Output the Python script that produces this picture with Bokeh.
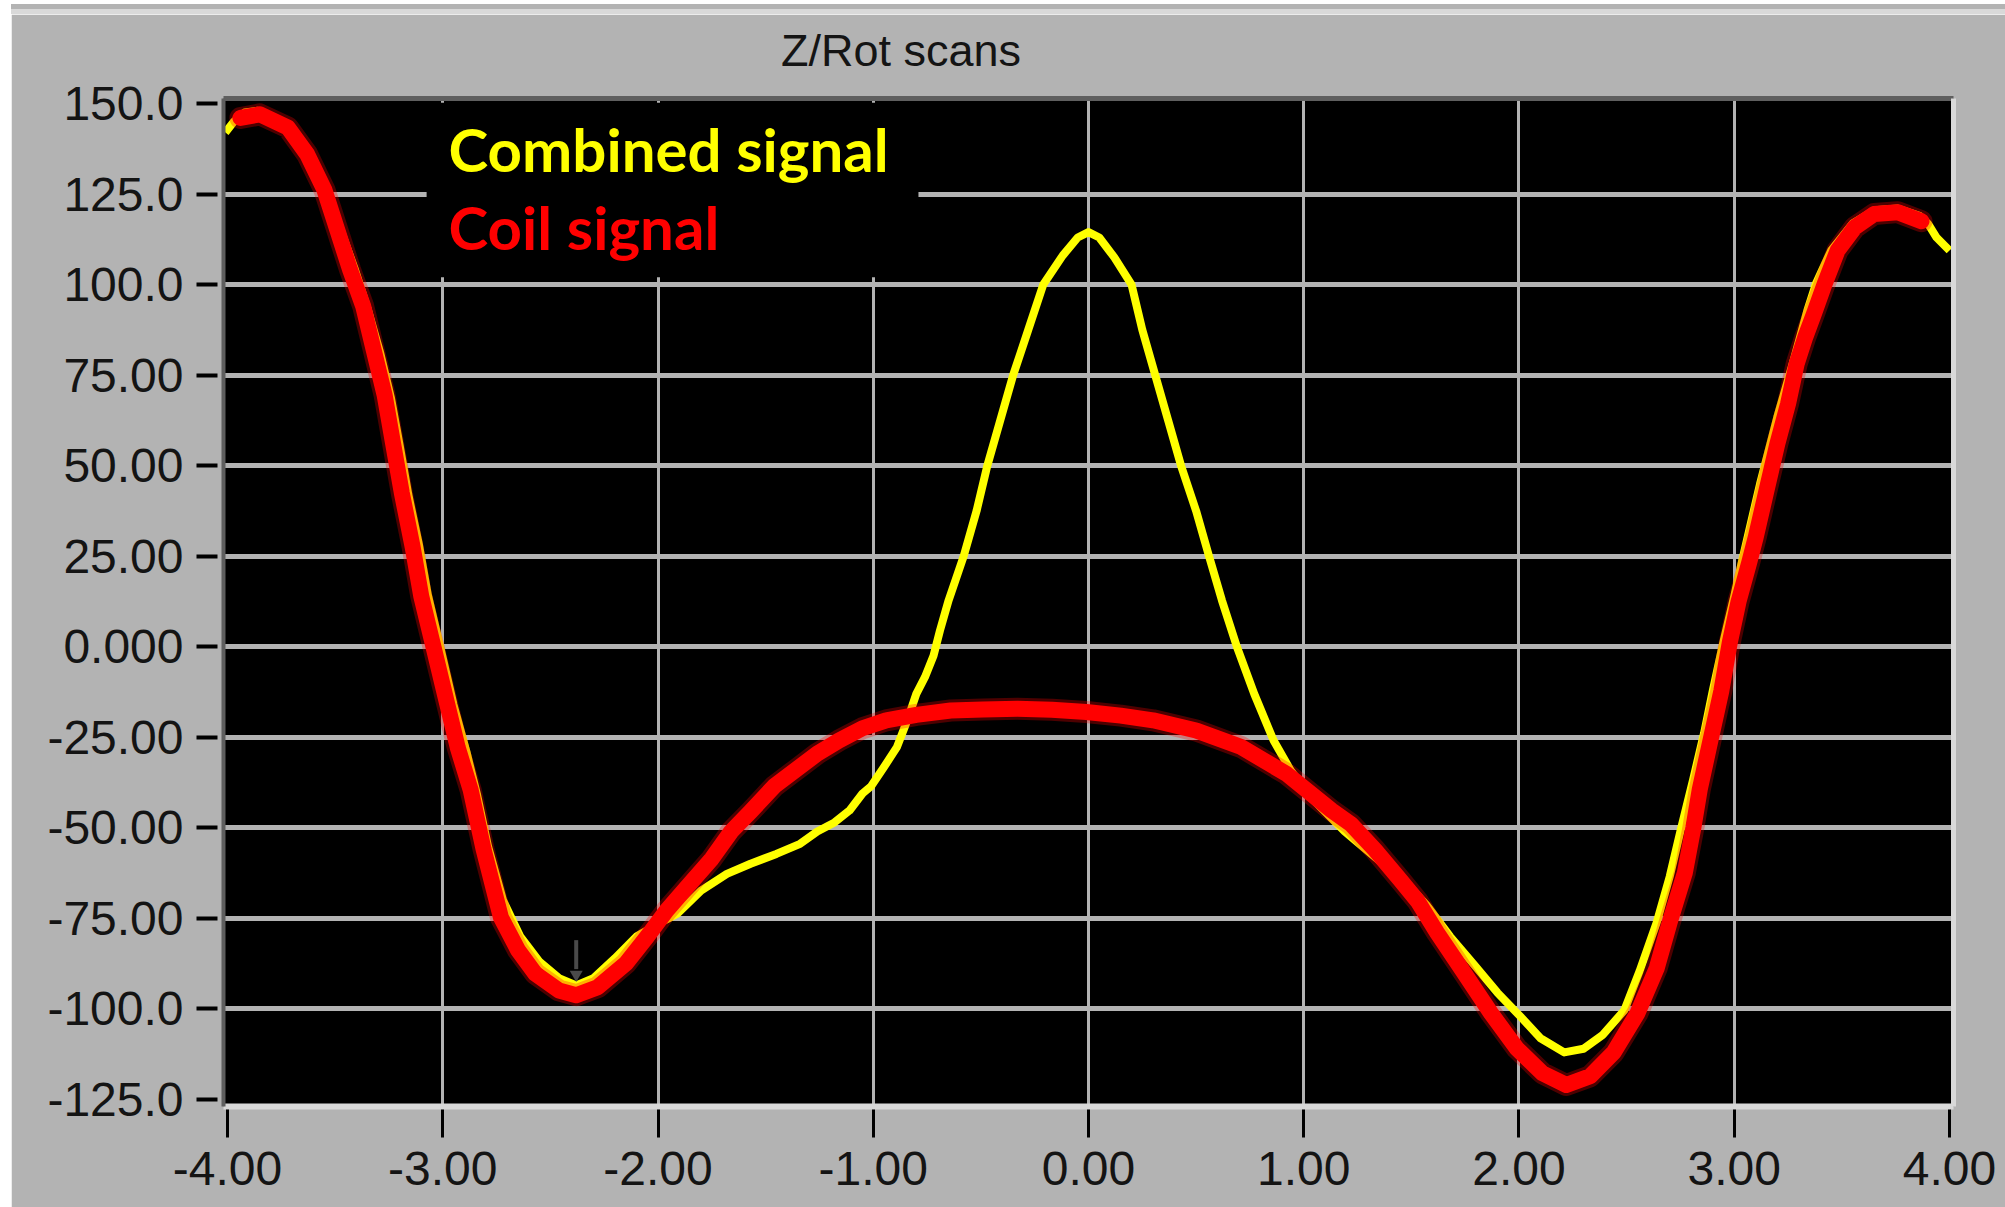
from bokeh.plotting import figure
from bokeh.models import Range1d, FixedTicker, LinearAxis, Label, Div, Spacer
from bokeh.layouts import column, row
from bokeh.embed import file_html
from bokeh.resources import INLINE

# ---- chart data -------------------------------------------------------------
title_text = "Z/Rot scans"
series_names = ["Combined signal", "Coil signal"]

x_ticks = [-4, -3, -2, -1, 0, 1, 2, 3, 4]
x_tick_labels = ["-4.00", "-3.00", "-2.00", "-1.00", "0.00", "1.00", "2.00", "3.00", "4.00"]
y_ticks = [150, 125, 100, 75, 50, 25, 0, -25, -50, -75, -100, -125]
y_tick_labels = ["150.0", "125.0", "100.0", "75.00", "50.00", "25.00", "0.000",
                 "-25.00", "-50.00", "-75.00", "-100.0", "-125.0"]

combined_x = [-4.01, -3.97, -3.92, -3.86, -3.78, -3.70, -3.62, -3.55, -3.48, -3.41,
              -3.35, -3.29, -3.24, -3.20, -3.16, -3.11, -3.07, -3.01, -2.95, -2.89,
              -2.84, -2.79, -2.72, -2.64, -2.55, -2.46, -2.38, -2.30, -2.20, -2.10,
              -2.00, -1.91, -1.80, -1.68, -1.57, -1.45, -1.34, -1.26, -1.18, -1.11,
              -1.05, -1.01, -0.95, -0.89, -0.84, -0.80, -0.76, -0.72, -0.69, -0.65,
              -0.58, -0.52, -0.47, -0.41, -0.35, -0.28, -0.21, -0.12, -0.05, 0.00,
              0.05, 0.12, 0.20, 0.25, 0.31, 0.37, 0.43, 0.50, 0.56, 0.62,
              0.69, 0.77, 0.86, 0.94, 1.04, 1.19, 1.37, 1.45, 1.57, 1.68,
              1.79, 1.90, 2.01, 2.10, 2.21, 2.30, 2.39, 2.49, 2.56, 2.64,
              2.70, 2.75, 2.81, 2.86, 2.90, 2.95, 3.00, 3.04, 3.12, 3.20,
              3.28, 3.34, 3.38, 3.45, 3.55, 3.65, 3.76, 3.86, 3.90, 3.94, 4.00]
combined_y = [142.0, 145.0, 147.5, 148.0, 146.0, 142.0, 135.5, 127.0, 116.0, 104.5,
              93.5, 81.0, 68.5, 55.5, 42.0, 28.0, 14.5, -0.5, -16.0, -29.0,
              -41.0, -55.0, -70.0, -80.0, -87.0, -91.5, -93.5, -91.5, -86.0, -80.0,
              -76.5, -73.7, -67.3, -62.7, -59.9, -57.2, -54.4, -51.0, -48.5, -45.2,
              -40.5, -38.5, -33.2, -27.7, -20.0, -13.0, -8.4, -2.5, 4.5, 12.8,
              25.0, 37.5, 50.0, 62.5, 75.0, 87.5, 100.0, 108.0, 113.0, 114.5,
              113.0, 107.5, 100.0, 87.5, 75.0, 62.5, 50.0, 37.5, 25.0, 12.8,
              -0.1, -13.0, -25.9, -34.2, -42.0, -51.0, -60.0, -63.5, -71.3, -80.0,
              -87.7, -95.5, -102.3, -108.1, -112.0, -111.0, -107.1, -100.3, -89.6, -76.1,
              -63.5, -50.9, -36.4, -23.8, -12.2, 1.4, 14.0, 24.6, 45.0, 63.4,
              80.0, 92.9, 100.3, 109.4, 116.9, 120.5, 121.0, 119.0, 116.8, 113.0, 109.4]

coil_x = [-3.94, -3.85, -3.72, -3.63, -3.55, -3.49, -3.43, -3.37, -3.32, -3.27,
          -3.23, -3.19, -3.14, -3.10, -3.04, -2.98, -2.93, -2.87, -2.81, -2.73,
          -2.65, -2.57, -2.46, -2.38, -2.28, -2.15, -2.05, -1.96, -1.86, -1.75,
          -1.66, -1.57, -1.46, -1.36, -1.26, -1.16, -1.05, -0.94, -0.80, -0.64,
          -0.49, -0.33, -0.17, -0.01, 0.15, 0.30, 0.50, 0.71, 0.92, 1.13,
          1.22, 1.33, 1.45, 1.53, 1.62, 1.74, 1.87, 1.99, 2.11, 2.22,
          2.33, 2.44, 2.55, 2.64, 2.70, 2.77, 2.81, 2.84, 2.89, 2.94,
          2.98, 3.02, 3.07, 3.10, 3.15, 3.20, 3.25, 3.29, 3.33, 3.37,
          3.42, 3.48, 3.56, 3.65, 3.76, 3.87]
coil_y = [146.0, 147.0, 143.4, 136.0, 126.2, 115.1, 104.0, 94.1, 81.8, 69.5,
          55.9, 42.4, 27.6, 14.0, -0.8, -15.6, -27.9, -39.6, -56.0, -74.7,
          -83.8, -90.3, -94.9, -96.2, -94.0, -87.5, -80.0, -72.8, -66.0, -58.5,
          -51.0, -45.5, -38.5, -34.0, -29.5, -25.9, -22.5, -20.3, -18.8, -17.6,
          -17.3, -17.1, -17.4, -18.0, -19.0, -20.3, -23.1, -27.7, -35.1, -45.2,
          -49.0, -56.0, -64.5, -70.3, -79.0, -89.6, -101.2, -110.9, -117.8, -121.0,
          -118.6, -112.0, -101.2, -88.7, -76.1, -62.5, -50.0, -39.3, -25.7, -12.2,
          1.4, 12.5, 23.4, 30.3, 43.2, 56.0, 67.1, 78.1, 85.5, 91.9,
          100.2, 109.4, 115.8, 119.5, 120.0, 117.5]

# cursor marker sitting on the left minimum
cursor_x = -2.38
cursor_y = [-81.0, -89.0]

# horizontal centre of the chart title along the top edge
title_x = -0.871

# ---- styling ----------------------------------------------------------------
PANEL_GRAY = "#b3b3b3"
LIGHT_EDGE = "#d9d9d9"
DARK_EDGE = "#5f5f5f"
GRID_GRAY = "#b3b3b3"
LABEL_COLOR = "#141414"
LABEL_FONT = "Liberation Sans"
LABEL_SIZE = "48px"

p = figure(width=1994, height=1193, output_backend="svg", toolbar_location=None,
           title_location=None,
           x_range=Range1d(-4.0186, 4.0186), y_range=Range1d(-126.93, 151.38),
           min_border_left=212, min_border_right=52, min_border_top=84, min_border_bottom=101,
           background_fill_color="black", border_fill_color=PANEL_GRAY,
           outline_line_color=None)

# bottom axis
xa = p.xaxis[0]
xa.ticker = FixedTicker(ticks=x_ticks)
xa.major_label_overrides = dict(zip(x_ticks, x_tick_labels))
xa.axis_line_color = LIGHT_EDGE
xa.axis_line_width = 6
xa.major_tick_line_color = "black"
xa.major_tick_line_width = 3
xa.major_tick_in = -3
xa.major_tick_out = 31
xa.minor_tick_line_color = None
xa.major_label_standoff = 14
xa.major_label_text_font = LABEL_FONT
xa.major_label_text_font_size = LABEL_SIZE
xa.major_label_text_color = LABEL_COLOR

# left axis
ya = p.yaxis[0]
ya.ticker = FixedTicker(ticks=y_ticks)
ya.major_label_overrides = dict(zip(y_ticks, y_tick_labels))
ya.axis_line_color = DARK_EDGE
ya.axis_line_width = 4
ya.major_tick_line_color = "black"
ya.major_tick_line_width = 4
ya.major_tick_in = -6
ya.major_tick_out = 27
ya.minor_tick_line_color = None
ya.major_label_standoff = 13
ya.major_label_text_font = LABEL_FONT
ya.major_label_text_font_size = LABEL_SIZE
ya.major_label_text_color = LABEL_COLOR

# top edge carries the chart title as its only label
top_edge = LinearAxis(ticker=FixedTicker(ticks=[title_x]),
                      major_label_overrides={title_x: title_text},
                      axis_line_color=DARK_EDGE, axis_line_width=5,
                      major_tick_line_color=None, minor_tick_line_color=None,
                      major_tick_out=0, major_tick_in=0, major_label_standoff=23,
                      major_label_text_font=LABEL_FONT, major_label_text_font_size="45px",
                      major_label_text_color=LABEL_COLOR)
right_edge = LinearAxis(ticker=FixedTicker(ticks=[]), axis_line_color=LIGHT_EDGE, axis_line_width=5,
                        major_tick_line_color=None, minor_tick_line_color=None,
                        major_label_text_font_size="0px")
p.add_layout(top_edge, "above")
p.add_layout(right_edge, "right")

# grid (interior lines only)
p.xgrid.ticker = FixedTicker(ticks=x_ticks[1:-1])
p.xgrid.grid_line_color = GRID_GRAY
p.xgrid.grid_line_width = 3
p.ygrid.ticker = FixedTicker(ticks=y_ticks[1:-1])
p.ygrid.grid_line_color = GRID_GRAY
p.ygrid.grid_line_width = 5

# black key box that hides the grid behind the series names
p.quad(left=[-3.075], right=[-0.79], bottom=[102.0], top=[150.2],
       fill_color="black", line_color=None)

# series
p.line(combined_x, combined_y, line_color="#ffff00", line_width=8, line_join="round")
p.segment(x0=[cursor_x], y0=[cursor_y[0]], x1=[cursor_x], y1=[cursor_y[1]],
          line_color="#4a4a4a", line_width=4)
p.scatter([cursor_x], [cursor_y[1] - 1.5], marker="inverted_triangle", size=13,
          fill_color="#4a4a4a", line_color=None)
p.line(coil_x, coil_y, line_color="#ff0000", line_width=22, line_alpha=0.3,
       line_join="round", line_cap="round")
p.line(coil_x, coil_y, line_color="#ff0000", line_width=16,
       line_join="round", line_cap="round")

# series names
for name, color, ypos in zip(series_names, ["#ffff00", "#ff0000"], [137.3, 116.0]):
    p.add_layout(Label(x=-2.973, y=ypos, text=name, text_font="Lato", text_font_style="bold",
                       text_font_size="60px", text_color=color, text_baseline="alphabetic"))

# window strip above the panel
strip = Div(text=(
    '<div style="position:relative;width:2005px;height:14px;background:#ffffff;">'
    '<div style="position:absolute;left:11px;top:4px;width:1994px;height:5px;background:#b3b3b3;"></div>'
    '<div style="position:absolute;left:11px;top:9px;width:1994px;height:5px;background:#d9d9d9;"></div>'
    '</div>'), width=2005, height=14, margin=0)

root = column(strip, row(Spacer(width=11, height=1193), p))

open("out.html", "w").write(file_html(root, INLINE))
